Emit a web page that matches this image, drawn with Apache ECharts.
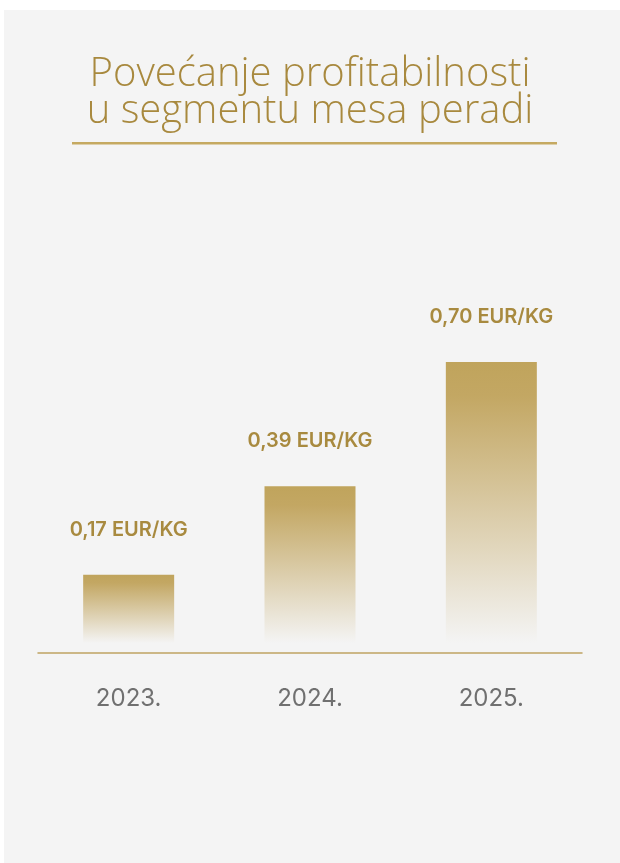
<!DOCTYPE html>
<html>
<head>
<meta charset="utf-8">
<script src="https://cdn.jsdelivr.net/npm/echarts@6/dist/echarts.min.js"></script>
<style>
html,body{margin:0;padding:0;background:#ffffff;}
#chart{width:620px;height:863px;}
</style>
</head>
<body>
<div id="chart"></div>
<script>
const titleLines = ['Povećanje profitabilnosti', 'u segmentu mesa peradi'];
const categories = ['2023.', '2024.', '2025.'];
const values = [0.17, 0.39, 0.70];
const unit = 'EUR/KG';

const chart = echarts.init(document.getElementById('chart'), null, {renderer: 'canvas'});

const option = {
  backgroundColor: '#ffffff',
  animation: false,
  graphic: [
    {type: 'rect', z: -10, shape: {x: 4, y: 10, width: 616, height: 853}, style: {fill: '#f4f4f4'}},
    {type: 'rect', z: 5, shape: {x: 72, y: 142, width: 485, height: 2.5}, style: {fill: '#c5a961'}}
  ],
  title: {
    text: titleLines.join('\n'),
    left: 'center',
    top: 51,
    textStyle: {
      fontFamily: 'Open Sans',
      fontWeight: 300,
      fontSize: 40,
      lineHeight: 37,
      color: '#a8893e'
    }
  },
  grid: {left: 38, right: 38, top: 180, bottom: 210, containLabel: false},
  xAxis: {
    type: 'category',
    data: categories,
    axisLine: {show: true, onZero: false, lineStyle: {color: '#bfa262', width: 1.5}},
    axisTick: {show: false},
    splitLine: {show: false},
    axisLabel: {
      margin: 34,
      fontFamily: 'Inter',
      fontSize: 24,
      color: '#707070'
    }
  },
  yAxis: {
    type: 'value',
    min: -0.025,
    max: 1.153,
    show: false,
    splitLine: {show: false}
  },
  series: [{
    type: 'bar',
    data: values,
    barWidth: 91,
    itemStyle: {
      color: new echarts.graphic.LinearGradient(0, 0, 0, 1, [
        {offset: 0, color: '#c0a45c'},
        {offset: 0.12, color: '#c3a763'},
        {offset: 1, color: 'rgba(244,244,244,1)'}
      ])
    },
    label: {
      show: true,
      position: 'top',
      distance: 35,
      fontFamily: 'Inter',
      fontWeight: 600,
      fontSize: 20,
      color: '#a88a3f',
      formatter: p => p.value.toFixed(2).replace('.', ',') + ' ' + unit
    }
  }]
};
chart.setOption(option);
</script>
</body>
</html>
